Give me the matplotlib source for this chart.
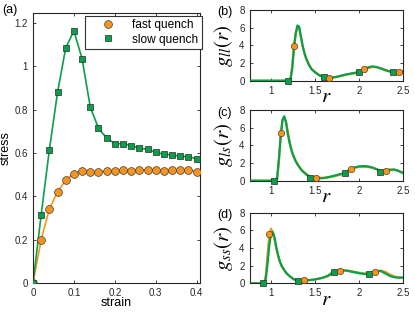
import numpy as np
import matplotlib
matplotlib.use('Agg')
import matplotlib.pyplot as plt
from matplotlib.lines import Line2D

plt.rcParams['font.family'] = ['Liberation Sans', 'DejaVu Sans']
plt.rcParams['mathtext.fontset'] = 'stix'

orange = '#f7941d'
green = '#08a04b'

# (a) stress-strain
strain = [0.00, 0.02, 0.04, 0.06, 0.08, 0.10, 0.12, 0.14, 0.16, 0.18, 0.20,
          0.22, 0.24, 0.26, 0.28, 0.30, 0.32, 0.34, 0.36, 0.38, 0.40]
fast_stress = [0.0, 0.20, 0.342, 0.42, 0.475, 0.505, 0.518, 0.512, 0.514, 0.517, 0.517,
               0.522, 0.518, 0.523, 0.521, 0.523, 0.518, 0.520, 0.521, 0.520, 0.514]
slow_stress = [0.0, 0.315, 0.615, 0.88, 1.085, 1.163, 1.035, 0.812, 0.714, 0.669, 0.643,
               0.643, 0.634, 0.622, 0.617, 0.603, 0.594, 0.591, 0.585, 0.582, 0.574]

# (b) g_ll(r)
r_b = [0.75, 1.20, 1.22, 1.24, 1.26, 1.28, 1.30, 1.32, 1.34, 1.36, 1.38, 1.40, 1.43, 1.46,
       1.50, 1.55, 1.60, 1.65, 1.70, 1.75, 1.80, 1.85, 1.90, 1.95, 2.00, 2.05, 2.10, 2.15,
       2.20, 2.25, 2.30, 2.35, 2.40, 2.45, 2.50]
gll_slow = [0, 0, 0.1, 1.3, 3.6, 5.3, 6.25, 6.1, 5.0, 3.9, 3.1, 2.5, 1.8, 1.3,
            0.95, 0.6, 0.4, 0.33, 0.36, 0.45, 0.58, 0.7, 0.8, 0.88, 1.0, 1.25, 1.5, 1.62,
            1.55, 1.38, 1.18, 1.03, 0.96, 0.97, 1.02]
gll_fast = [0, 0, 0.2, 1.6, 3.9, 5.4, 6.1, 5.9, 4.9, 3.9, 3.1, 2.5, 1.85, 1.35,
            1.0, 0.62, 0.42, 0.34, 0.35, 0.42, 0.54, 0.66, 0.76, 0.85, 0.95, 1.2, 1.42, 1.55,
            1.52, 1.4, 1.22, 1.08, 1.0, 1.02, 1.06]
mk_b_slow_r = [1.19, 1.60, 2.00, 2.39]
mk_b_slow_g = [0, 0.38, 0.98, 0.96]
mk_b_fast_r = [1.26, 1.66, 2.06, 2.46]
mk_b_fast_g = [3.95, 0.33, 1.28, 1.04]

# (c) g_ls(r)
r_c = [0.75, 1.05, 1.07, 1.09, 1.11, 1.13, 1.15, 1.17, 1.19, 1.21, 1.23, 1.25, 1.28, 1.31,
       1.35, 1.40, 1.45, 1.50, 1.55, 1.60, 1.65, 1.70, 1.75, 1.80, 1.85, 1.90, 1.95, 2.00,
       2.05, 2.10, 2.15, 2.20, 2.25, 2.30, 2.35, 2.40, 2.45, 2.50]
gls_slow = [0, 0, 0.4, 2.6, 5.0, 6.9, 7.3, 6.6, 5.3, 4.3, 3.5, 2.9, 2.2, 1.7,
            1.15, 0.7, 0.36, 0.27, 0.26, 0.3, 0.4, 0.52, 0.65, 0.78, 0.93, 1.3, 1.5, 1.62,
            1.66, 1.62, 1.5, 1.3, 1.05, 1.12, 1.25, 1.27, 1.1, 0.85]
gls_fast = [0, 0, 0.2, 2.2, 5.3, 6.8, 7.1, 6.7, 5.6, 4.5, 3.6, 2.95, 2.25, 1.75,
            1.2, 0.75, 0.42, 0.36, 0.33, 0.33, 0.38, 0.46, 0.58, 0.72, 0.88, 1.32, 1.48, 1.55,
            1.58, 1.55, 1.45, 1.3, 1.12, 1.13, 1.2, 1.22, 1.12, 0.92]
mk_c_slow_r = [1.035, 1.44, 1.84, 2.235]
mk_c_slow_g = [0, 0.34, 0.9, 1.03]
mk_c_fast_r = [1.11, 1.51, 1.91, 2.31]
mk_c_fast_g = [5.4, 0.36, 1.34, 1.13]

# (d) g_ss(r)
r_d = [0.75, 0.92, 0.94, 0.96, 0.98, 1.00, 1.02, 1.04, 1.06, 1.08, 1.10, 1.12, 1.15, 1.18,
       1.22, 1.26, 1.30, 1.35, 1.40, 1.45, 1.50, 1.55, 1.60, 1.65, 1.70, 1.75, 1.80, 1.85,
       1.90, 1.95, 2.00, 2.05, 2.10, 2.15, 2.20, 2.25, 2.30, 2.35, 2.40, 2.45, 2.50]
gss_slow = [0, 0, 0.5, 2.2, 4.3, 5.6, 5.8, 5.2, 4.1, 3.2, 2.5, 2.0, 1.5, 1.1,
            0.75, 0.45, 0.32, 0.3, 0.32, 0.38, 0.45, 0.55, 0.68, 0.9, 1.25, 1.42, 1.48, 1.45,
            1.35, 1.25, 1.15, 1.08, 1.06, 1.25, 1.42, 1.38, 1.12, 0.85, 0.7, 0.65, 0.65]
gss_fast = [0, 0, 0.9, 3.2, 5.5, 6.2, 5.8, 4.9, 3.9, 3.1, 2.45, 1.95, 1.5, 1.1,
            0.75, 0.47, 0.36, 0.36, 0.37, 0.4, 0.46, 0.55, 0.66, 0.82, 1.05, 1.32, 1.45, 1.48,
            1.42, 1.32, 1.22, 1.13, 1.08, 1.15, 1.35, 1.45, 1.3, 1.0, 0.78, 0.68, 0.66]
mk_d_slow_r = [0.905, 1.31, 1.71, 2.11]
mk_d_slow_g = [0, 0.32, 1.3, 1.06]
mk_d_fast_r = [0.978, 1.38, 1.785, 2.18]
mk_d_fast_g = [5.6, 0.37, 1.43, 1.3]

fig = plt.figure(figsize=(4.15, 3.12), dpi=100)


def style_axes(ax):
    for s in ax.spines.values():
        s.set_linewidth(0.8)
        s.set_color('#262626')
    ax.tick_params(direction='in', top=True, right=True, length=2.5, width=0.6,
                   labelsize=7, pad=3.5, colors='#262626')


# panel (a)
ax = fig.add_axes([33 / 415, 29 / 312, 166.5 / 415, 270 / 312])
ax.plot(strain, fast_stress, '-', color=orange, lw=1.2, zorder=2)
ax.plot(strain, slow_stress, '-', color=green, lw=1.2, zorder=2)
ax.plot(strain, fast_stress, 'o', ms=5.6, mfc=orange, mec='#3a3a3a', mew=0.5, zorder=3)
ax.plot(strain, slow_stress, 's', ms=4.8, mfc=green, mec='#2a2a2a', mew=0.5, zorder=4)
ax.set_xlim(0, 0.407)
ax.set_ylim(0, 1.246)
ax.set_xticks([0, 0.1, 0.2, 0.3, 0.4])
ax.set_xticklabels(['0', '0.1', '0.2', '0.3', '0.4'])
ax.set_yticks([0, 0.2, 0.4, 0.6, 0.8, 1.0, 1.2])
ax.set_yticklabels(['0', '0.2', '0.4', '0.6', '0.8', '1', '1.2'])
style_axes(ax)
ax.set_xlabel('strain', fontsize=9)
ax.set_ylabel('stress', fontsize=9)
ax.xaxis.set_label_coords(0.5, -0.05)
ax.yaxis.set_label_coords(-0.128, 0.5)
handles = [Line2D([], [], ls='none', marker='o', ms=5.6, mfc=orange, mec='#3a3a3a', mew=0.5),
           Line2D([], [], ls='none', marker='s', ms=4.8, mfc=green, mec='#2a2a2a', mew=0.5)]
leg = ax.legend(handles, ['fast quench', 'slow quench'], loc='upper right',
                bbox_to_anchor=(1.015, 0.99), fontsize=8.6, frameon=True, fancybox=False,
                borderpad=0.3, handlelength=3.4, handletextpad=0.3, labelspacing=0.2,
                borderaxespad=0)
leg.get_frame().set_edgecolor('#333333')
leg.get_frame().set_linewidth(0.8)
leg.get_frame().set_alpha(1)
fig.text(0.005, 0.968, '(a)', fontsize=9, va='center', ha='left')

# panels (b)-(d)
panels = [
    ('(b)', r'$g_{ll}(r)$', r_b, gll_fast, gll_slow, mk_b_fast_r, mk_b_fast_g, mk_b_slow_r, mk_b_slow_g, 10.0),
    ('(c)', r'$g_{ls}(r)$', r_c, gls_fast, gls_slow, mk_c_fast_r, mk_c_fast_g, mk_c_slow_r, mk_c_slow_g, 110.0),
    ('(d)', r'$g_{ss}(r)$', r_d, gss_fast, gss_slow, mk_d_fast_r, mk_d_fast_g, mk_d_slow_r, mk_d_slow_g, 212.7),
]
for tag, ylab, r, gf, gs, mfr, mfg, msr, msg, top in panels:
    h = 70.7
    ax = fig.add_axes([249.5 / 415, (312 - top - h) / 312, 153.5 / 415, h / 312])
    ax.plot(r, gf, '-', color=orange, lw=1.6, zorder=2)
    ax.plot(r, gs, '-', color=green, lw=1.6, zorder=3)
    ax.plot(msr, msg, 's', ms=4.2, mfc=green, mec='#2a2a2a', mew=0.5, zorder=4, clip_on=False)
    ax.plot(mfr, mfg, 'o', ms=4.6, mfc=orange, mec='#5a4020', mew=0.5, zorder=5, clip_on=False)
    ax.set_xlim(0.755, 2.5)
    ax.set_ylim(0, 8)
    ax.set_xticks([1, 1.5, 2, 2.5])
    ax.set_xticklabels(['1', '1.5', '2', '2.5'])
    ax.set_yticks([0, 2, 4, 6, 8])
    style_axes(ax)
    ax.set_xlabel(r'$r$', fontsize=15)
    ax.set_ylabel(ylab, fontsize=15)
    ax.xaxis.set_label_coords(0.5, -0.09)
    ax.yaxis.set_label_coords(-0.095, 0.5)
    fig.text(217 / 415, 1 - (top + 2.5) / 312, tag, fontsize=9, va='center', ha='left')

fig.savefig('out.png', dpi=100)
